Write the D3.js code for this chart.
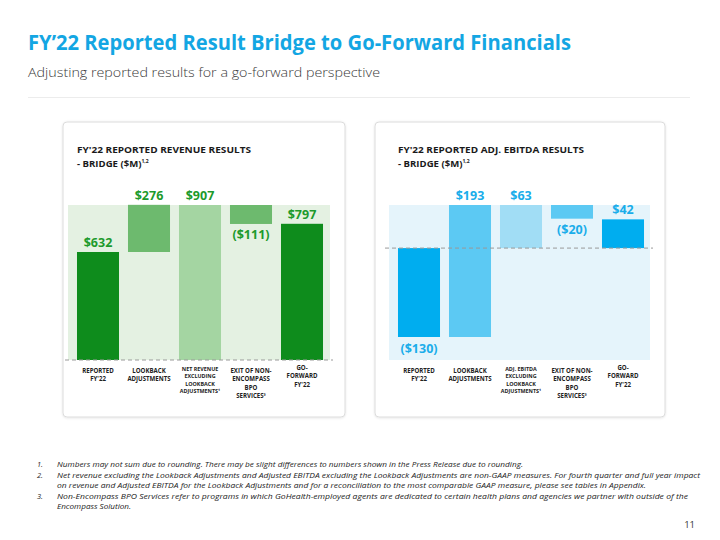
<!DOCTYPE html>
<html><head><meta charset="utf-8">
<script src="https://cdn.jsdelivr.net/npm/d3@7"></script>
<style>
html,body{margin:0;padding:0;background:#fff;}
svg{display:block;font-family:"Open Sans",sans-serif;}
</style></head>
<body>
<svg id="c" width="720" height="540"></svg>
<script>
// ---------- DATA ----------
const revCategories = [
  ["REPORTED","FY'22"],
  ["LOOKBACK","ADJUSTMENTS"],
  ["NET REVENUE","EXCLUDING","LOOKBACK","ADJUSTMENTS\u00B9"],
  ["EXIT OF NON-","ENCOMPASS","BPO","SERVICES\u00B3"],
  ["GO-","FORWARD","FY'22"]
];
const revValues = [632, 276, 907, -111, 797];
const revLabels = ["$632","$276","$907","($111)","$797"];
const revKinds  = ["total","delta","total","delta","total"];

const ebitdaCategories = [
  ["REPORTED","FY'22"],
  ["LOOKBACK","ADJUSTMENTS"],
  ["ADJ. EBITDA","EXCLUDING","LOOKBACK","ADJUSTMENTS\u00B9"],
  ["EXIT OF NON-","ENCOMPASS","BPO","SERVICES\u00B3"],
  ["GO-","FORWARD","FY'22"]
];
const ebitdaValues = [-130, 193, 63, -20, 42];
const ebitdaLabels = ["($130)","$193","$63","($20)","$42"];
const ebitdaKinds  = ["total","delta","total","delta","total"];

const footnotes = [
  ["1.", ["Numbers may not sum due to rounding.  There may be slight differences to numbers shown in the Press Release due to rounding."]],
  ["2.", ["Net revenue excluding the Lookback Adjustments and Adjusted EBITDA excluding the Lookback Adjustments are non-GAAP measures. For fourth quarter and full year impact",
          "on revenue and Adjusted EBITDA for the Lookback Adjustments and for a reconciliation to the most comparable GAAP measure, please see tables in Appendix."]],
  ["3.", ["Non-Encompass BPO Services refer to programs in which GoHealth-employed agents are dedicated to certain health plans and agencies we partner with outside of the",
          "Encompass Solution."]]
];

// ---------- PAGE ----------
const svg = d3.select("#c");
const defs = svg.append("defs");
const f = defs.append("filter").attr("id","sh").attr("x","-5%").attr("y","-5%").attr("width","110%").attr("height","110%");
f.append("feDropShadow").attr("dx",0).attr("dy",0.5).attr("stdDeviation",1).attr("flood-color","#000").attr("flood-opacity",0.12);

svg.append("text").attr("x",28).attr("y",50)
  .attr("font-size",21).attr("font-weight",700).attr("fill","#13a6e3")
  .attr("textLength",543).attr("lengthAdjust","spacingAndGlyphs")
  .text("FY\u201922 Reported Result Bridge to Go-Forward Financials");
svg.append("text").attr("x",28).attr("y",77)
  .attr("font-size",13.5).attr("font-weight",300).attr("fill","#3a3a3a")
  .attr("textLength",352).attr("lengthAdjust","spacingAndGlyphs")
  .text("Adjusting reported results for a go-forward perspective");
svg.append("line").attr("x1",28).attr("x2",690).attr("y1",97.5).attr("y2",97.5)
  .attr("stroke","#ececec").attr("stroke-width",1);

// ---------- CHART BUILDER ----------
function waterfall(opt){
  const g = svg.append("g");
  g.append("rect").attr("x",opt.card[0]).attr("y",opt.card[1]).attr("width",opt.card[2]).attr("height",opt.card[3])
    .attr("rx",4).attr("fill","#fff").attr("stroke","#dcdcdc").attr("stroke-width",1).attr("filter","url(#sh)");

  const t = g.append("text").attr("x",opt.titleX).attr("font-size",9.6).attr("font-weight",700).attr("fill","#1a1a1a");
  t.append("tspan").attr("x",opt.titleX).attr("y",153).text(opt.title1)
    .attr("textLength",opt.titleW).attr("lengthAdjust","spacingAndGlyphs");
  const t2 = g.append("text").attr("x",opt.titleX).attr("y",167).attr("font-size",9.6).attr("font-weight",700).attr("fill","#1a1a1a");
  t2.append("tspan").text("- BRIDGE ($M)");
  t2.append("tspan").attr("font-size",5).attr("dy",-4).text("1,2");

  g.append("rect").attr("x",opt.bg[0]).attr("y",opt.bg[1]).attr("width",opt.bg[2]).attr("height",opt.bg[3]).attr("fill",opt.bgColor);

  const idx = d3.range(opt.values.length);
  const x = d3.scaleBand().domain(idx).range(opt.xRange).paddingInner(0.176).paddingOuter(0.088);
  const y = d3.scaleLinear().domain(opt.yDomain).range(opt.yRange);

  let run = 0;
  const segs = opt.values.map((v,i)=>{
    let a,b;
    if(opt.kinds[i]==="total"){ a=0; b=v; run=v; }
    else { a=run; b=run+v; run=b; }
    return {i, v, a, b, lo:Math.min(a,b), hi:Math.max(a,b)};
  });

  g.selectAll("rect.bar").data(segs).join("rect").attr("class","bar")
    .attr("x",d=>x(d.i)).attr("width",x.bandwidth())
    .attr("y",d=>y(d.hi)).attr("height",d=>y(d.lo)-y(d.hi))
    .attr("fill",d=>opt.colors[d.i]);

  g.append("line").attr("x1",opt.zeroX[0]).attr("x2",opt.zeroX[1])
    .attr("y1",y(0)).attr("y2",y(0)).attr("stroke","#9a9a9a").attr("stroke-width",1).attr("stroke-dasharray","4,3");

  g.selectAll("text.val").data(segs).join("text").attr("class","val")
    .attr("x",d=>x(d.i)+x.bandwidth()/2)
    .attr("y",d=> (d.v<0) ? y(d.lo)+15.5 : y(d.hi)-5)
    .attr("text-anchor","middle").attr("font-size",12.5).attr("font-weight",700)
    .attr("fill",opt.labelColor).text(d=>opt.labels[d.i]);

  idx.forEach(i=>{
    const lines = opt.cats[i];
    const small = lines.length===4 && i===2;
    const fs = small ? 5.4 : 6.1;
    const lh = small ? 7.6 : 8.5;
    const y0 = (i===4) ? 369.5 : (small ? 370.5 : 372.5);
    const tx = g.append("text").attr("text-anchor","middle").attr("font-size",fs)
      .attr("font-weight",700).attr("fill","#222");
    lines.forEach((l,k)=>{
      tx.append("tspan").attr("x",x(i)+x.bandwidth()/2).attr("y",y0+k*lh).text(l);
    });
  });
}

waterfall({
  card:[63,122,282,295], titleX:77, titleW:174,
  title1:"FY'22 REPORTED REVENUE RESULTS",
  bg:[68,205,262,155], bgColor:"#e4f1e2",
  xRange:[72.5,327.5], yDomain:[0,907], yRange:[360,205],
  zeroX:[65,333],
  values:revValues, kinds:revKinds, labels:revLabels, cats:revCategories,
  colors:["#0e8c1c","#6dba6e","#a4d5a2","#6dba6e","#0e8c1c"],
  labelColor:"#1d9a2c"
});

waterfall({
  card:[375,122,290,295], titleX:398, titleW:186,
  title1:"FY'22 REPORTED ADJ. EBITDA RESULTS",
  bg:[389,205,261,155], bgColor:"#e5f4fb",
  xRange:[393.5,648.5], yDomain:[-130,63], yRange:[337,205],
  zeroX:[385,653],
  values:ebitdaValues, kinds:ebitdaKinds, labels:ebitdaLabels, cats:ebitdaCategories,
  colors:["#00adef","#5cc9f3","#a1ddf5","#5cc9f3","#00adef"],
  labelColor:"#1aadea"
});

// ---------- FOOTNOTES ----------
const fnWidths = [[466],[643,589],[631,74]];
const fnY = [[467],[478,488],[499,509]];
footnotes.forEach((fn,i)=>{
  svg.append("text").attr("x",37).attr("y",fnY[i][0]).attr("font-size",7.4).attr("font-style","italic")
    .attr("fill","#222").text(fn[0]);
  fn[1].forEach((line,k)=>{
    svg.append("text").attr("x",57).attr("y",fnY[i][k]).attr("font-size",7.4).attr("font-style","italic")
      .attr("fill","#222").attr("textLength",fnWidths[i][k]).attr("lengthAdjust","spacingAndGlyphs").text(line);
  });
});
svg.append("text").attr("x",695).attr("y",528).attr("text-anchor","end").attr("font-size",9.5).attr("fill","#333").text("11");
</script>
</body></html>
